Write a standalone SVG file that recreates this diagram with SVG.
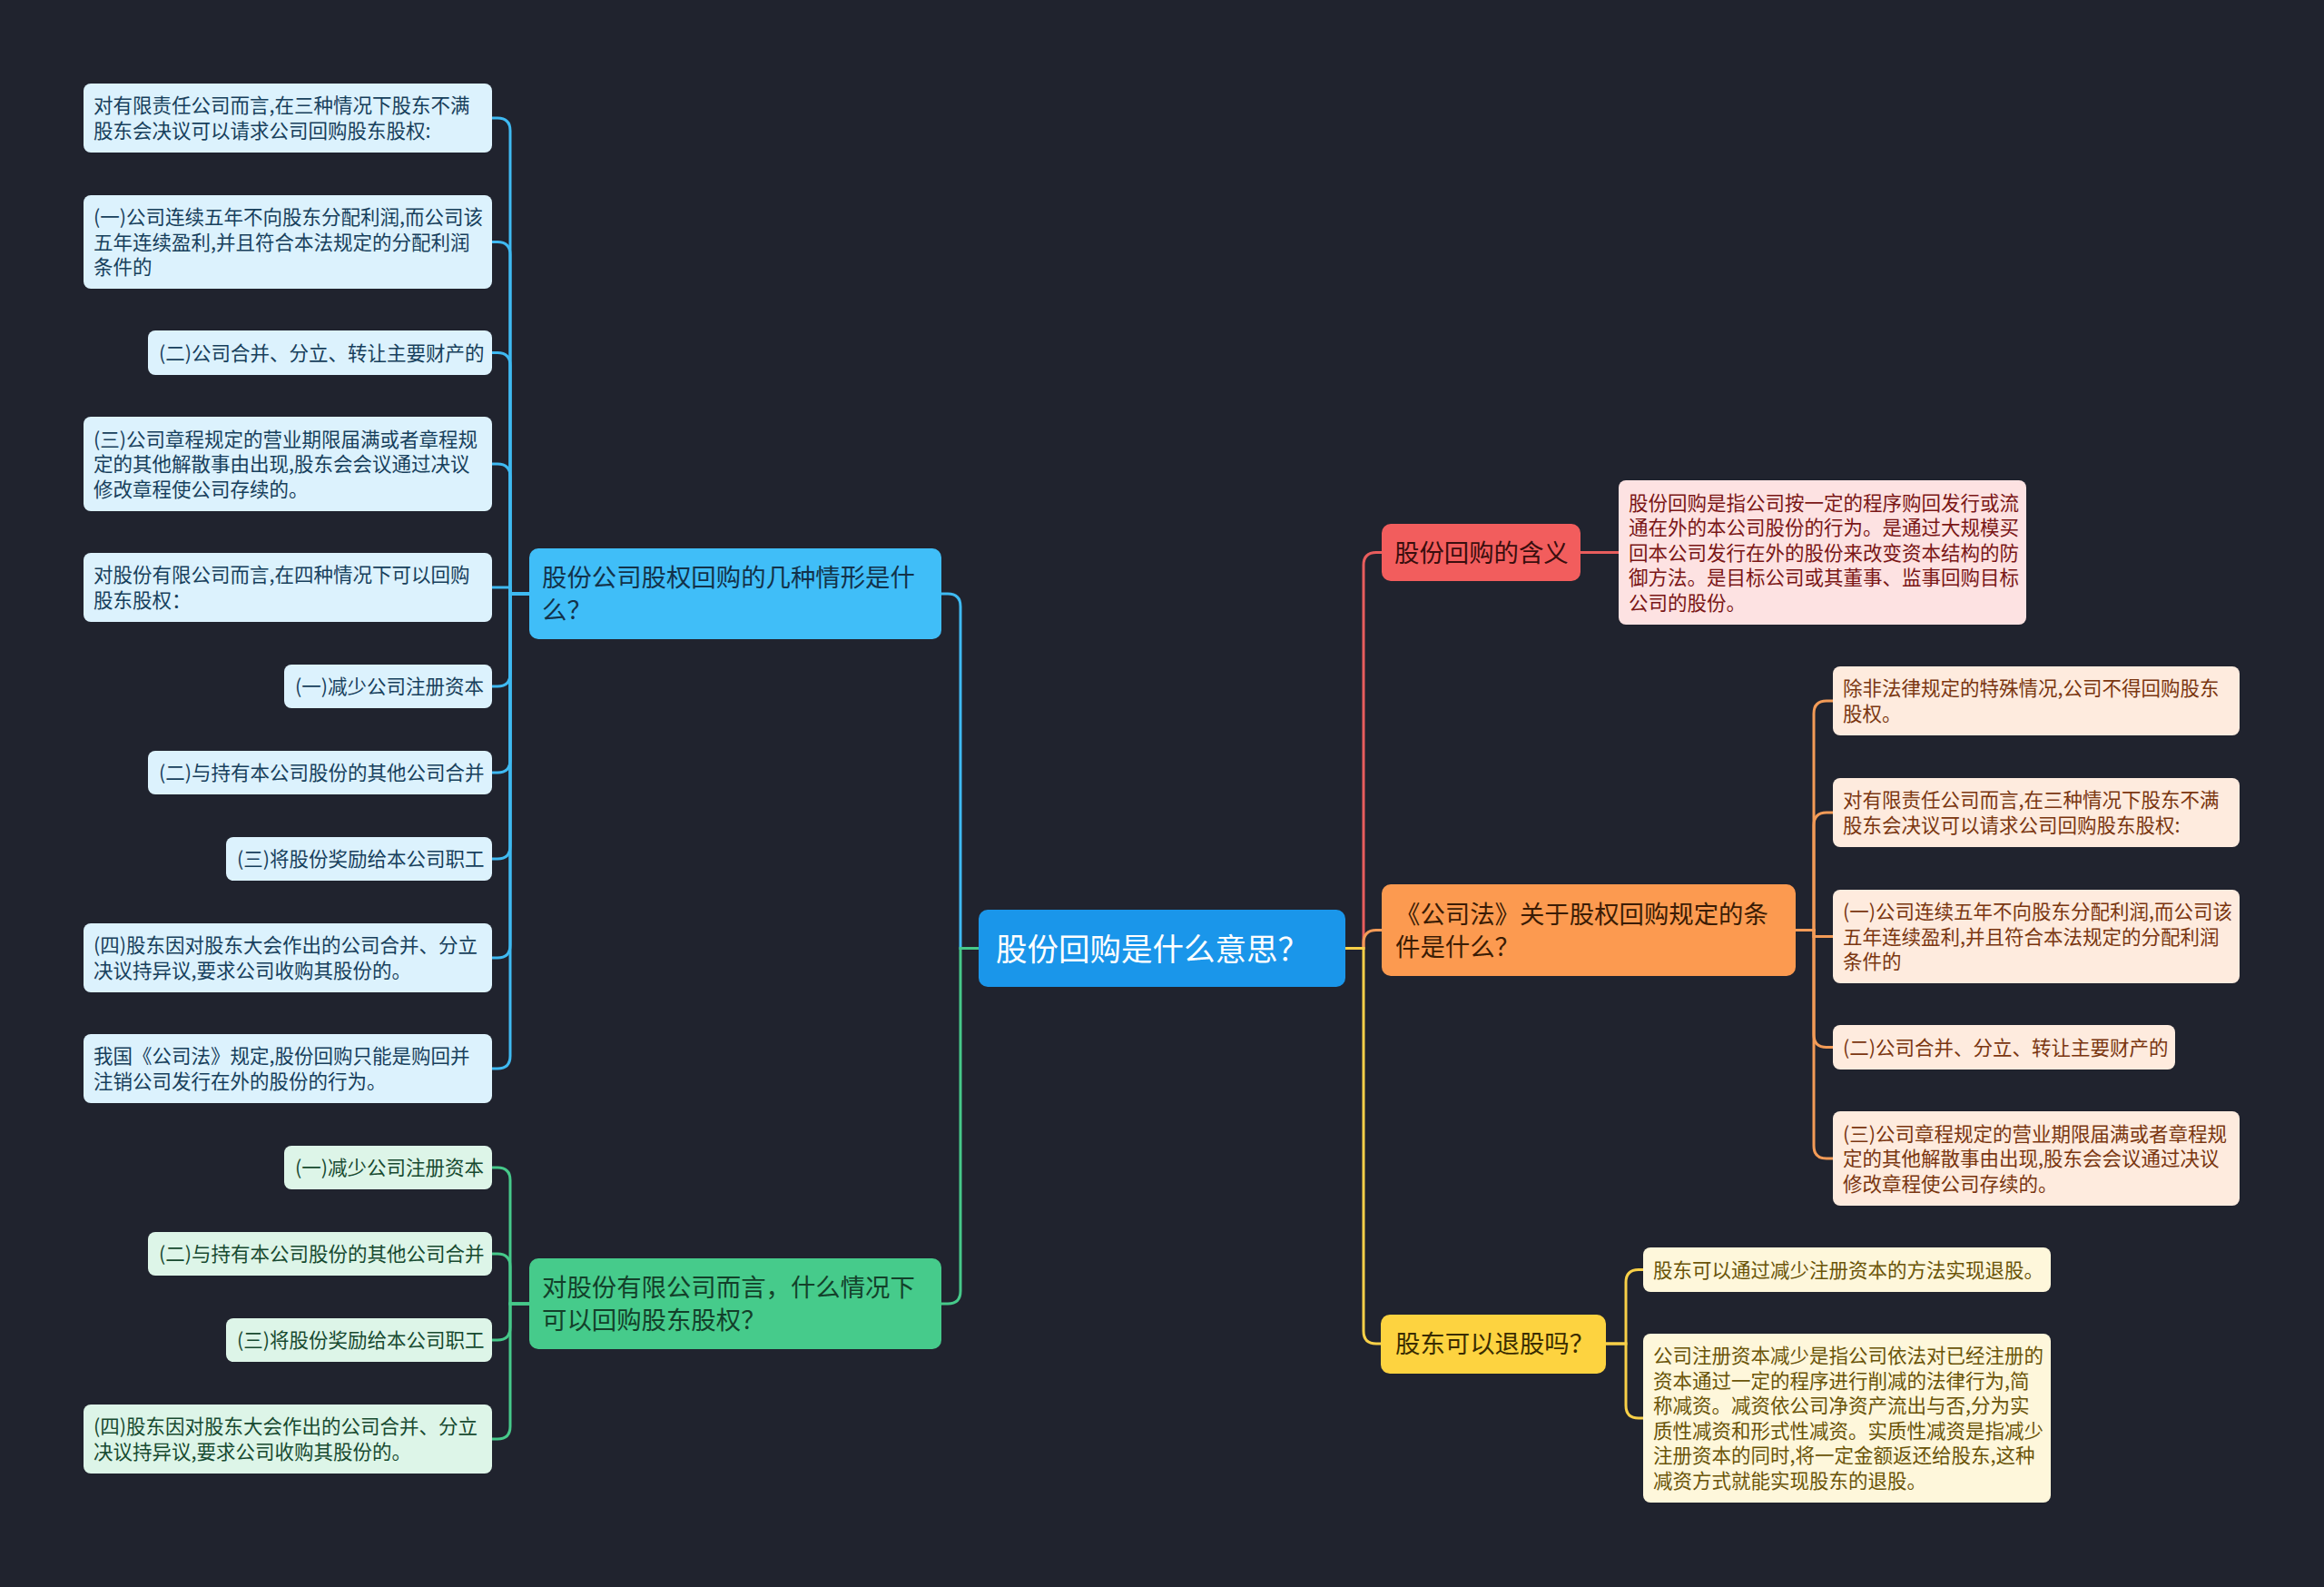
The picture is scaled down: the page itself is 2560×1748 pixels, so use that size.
<svg xmlns="http://www.w3.org/2000/svg" width="2560" height="1748" viewBox="0 0 2560 1748">
<style>
text{font-family:"Noto Sans CJK SC","Noto Sans",sans-serif;}
.s{font-size:21.5px;}
.m{font-size:27.4px;}
.r{font-size:34.5px;fill:#ffffff;}
.cb{fill:#dcf2fd;} .tb{fill:#17405c;}
.cg{fill:#ddf5e8;} .tg{fill:#174a30;}
.cr{fill:#fde2e2;} .tr{fill:#7a1616;}
.co{fill:#feebde;} .to{fill:#7a3610;}
.cy{fill:#fef7db;} .ty{fill:#6a5408;}
.lb{fill:none;stroke:#3fbaf2;stroke-width:3;}
.lg{fill:none;stroke:#46c98a;stroke-width:3;}
.lr{fill:none;stroke:#e85d5d;stroke-width:3;}
.lo{fill:none;stroke:#f39b57;stroke-width:3;}
.ly{fill:none;stroke:#f8d048;stroke-width:3;}
</style>
<rect x="0" y="0" width="2560" height="1748" fill="#20232e"/>

<g id="connectors">
<path class="lb" d="M1078,1044.5 H1058 V668 Q1058,654 1044,654 H1037"/>
<path class="lg" d="M1078,1044.5 H1058 V1422 Q1058,1436 1044,1436 H1037"/>
<path class="lb" d="M583,654 H562 V144 Q562,130 548,130 H542"/>
<path class="lb" d="M583,654 H562 V280.5 Q562,266.5 548,266.5 H542"/>
<path class="lb" d="M583,654 H562 V402.5 Q562,388.5 548,388.5 H542"/>
<path class="lb" d="M583,654 H562 V525 Q562,511 548,511 H542"/>
<path class="lb" d="M583,654 H562 V647 H542"/>
<path class="lb" d="M583,654 H562 V742 Q562,756 548,756 H542"/>
<path class="lb" d="M583,654 H562 V837 Q562,851 548,851 H542"/>
<path class="lb" d="M583,654 H562 V932 Q562,946 548,946 H542"/>
<path class="lb" d="M583,654 H562 V1041 Q562,1055 548,1055 H542"/>
<path class="lb" d="M583,654 H562 V1163 Q562,1177 548,1177 H542"/>
<path class="lg" d="M583,1436 H562 V1300 Q562,1286 548,1286 H542"/>
<path class="lg" d="M583,1436 H562 V1395 Q562,1381 548,1381 H542"/>
<path class="lg" d="M583,1436 H562 V1462 Q562,1476 548,1476 H542"/>
<path class="lg" d="M583,1436 H562 V1571 Q562,1585 548,1585 H542"/>
<path class="lr" d="M1482,1044.5 H1502 V622.5 Q1502,608.5 1516,608.5 H1522"/>
<path class="lo" d="M1482,1044.5 H1502 V1038.5 Q1502,1024.5 1516,1024.5 H1522"/>
<path class="ly" d="M1482,1044.5 H1502 V1466 Q1502,1480 1516,1480 H1521"/>
<path class="lr" d="M1741,608.5 H1783"/>
<path class="lo" d="M1978,1024.5 H1998 V786 Q1998,772 2012,772 H2019"/>
<path class="lo" d="M1978,1024.5 H1998 V909 Q1998,895 2012,895 H2019"/>
<path class="lo" d="M1978,1024.5 H1998 V1031.5 H2019"/>
<path class="lo" d="M1978,1024.5 H1998 V1139.5 Q1998,1153.5 2012,1153.5 H2019"/>
<path class="lo" d="M1978,1024.5 H1998 V1262 Q1998,1276 2012,1276 H2019"/>
<path class="ly" d="M1769,1480 H1791 V1412.5 Q1791,1398.5 1805,1398.5 H1810"/>
<path class="ly" d="M1769,1480 H1791 V1548 Q1791,1562 1805,1562 H1810"/>
</g>

<g id="root">
<rect x="1078" y="1002" width="404" height="85" rx="10" fill="#1a96ea"/>
<text class="r" x="1097" y="1057.6">股份回购是什么意思？</text>
</g>

<g id="n-blue">
<rect x="583" y="604" width="454" height="100" rx="10" fill="#40bef8"/>
<text class="m" fill="#13324a"><tspan x="597" y="646.4">股份公司股权回购的几种情形是什</tspan><tspan x="597" y="682.4">么？</tspan></text>
</g>
<g id="n-green">
<rect x="583" y="1386" width="454" height="100" rx="10" fill="#46cb8b"/>
<text class="m" fill="#13402a"><tspan x="597" y="1428.4">对股份有限公司而言，什么情况下</tspan><tspan x="597" y="1464.4">可以回购股东股权？</tspan></text>
</g>
<g id="n-red">
<rect x="1522" y="577" width="219" height="63" rx="10" fill="#f25d5d"/>
<text class="m" fill="#3a0e0e" x="1536" y="618.9">股份回购的含义</text>
</g>
<g id="n-orange">
<rect x="1522" y="974" width="456" height="101" rx="10" fill="#fc9a50"/>
<text class="m" fill="#3a1c05"><tspan x="1537" y="1016.9">《公司法》关于股权回购规定的条</tspan><tspan x="1537" y="1052.9">件是什么？</tspan></text>
</g>
<g id="n-yellow">
<rect x="1521" y="1448" width="248" height="65" rx="10" fill="#fdd340"/>
<text class="m" fill="#3a2c00" x="1537" y="1490.4">股东可以退股吗？</text>
</g>

<g id="b1"><rect class="cb" x="92" y="92" width="450" height="76" rx="8"/><text class="s tb"><tspan x="103" y="124.3">对有限责任公司而言,在三种情况下股东不满</tspan><tspan x="103" y="151.8">股东会决议可以请求公司回购股东股权:</tspan></text></g>
<g id="b2"><rect class="cb" x="92" y="215" width="450" height="103" rx="8"/><text class="s tb"><tspan x="103" y="247">(一)公司连续五年不向股东分配利润,而公司该</tspan><tspan x="103" y="274.5">五年连续盈利,并且符合本法规定的分配利润</tspan><tspan x="103" y="302">条件的</tspan></text></g>
<g id="b3"><rect class="cb" x="163" y="364" width="379" height="49" rx="8"/><text class="s tb" x="175" y="396.5">(二)公司合并、分立、转让主要财产的</text></g>
<g id="b4"><rect class="cb" x="92" y="459" width="450" height="104" rx="8"/><text class="s tb"><tspan x="103" y="491.5">(三)公司章程规定的营业期限届满或者章程规</tspan><tspan x="103" y="519">定的其他解散事由出现,股东会会议通过决议</tspan><tspan x="103" y="546.5">修改章程使公司存续的。</tspan></text></g>
<g id="b5"><rect class="cb" x="92" y="609" width="450" height="76" rx="8"/><text class="s tb"><tspan x="103" y="641.3">对股份有限公司而言,在四种情况下可以回购</tspan><tspan x="103" y="668.8">股东股权：</tspan></text></g>
<g id="b6"><rect class="cb" x="313" y="732" width="229" height="48" rx="8"/><text class="s tb" x="325" y="764">(一)减少公司注册资本</text></g>
<g id="b7"><rect class="cb" x="163" y="827" width="379" height="48" rx="8"/><text class="s tb" x="175" y="859">(二)与持有本公司股份的其他公司合并</text></g>
<g id="b8"><rect class="cb" x="249" y="922" width="293" height="48" rx="8"/><text class="s tb" x="261" y="954">(三)将股份奖励给本公司职工</text></g>
<g id="b9"><rect class="cb" x="92" y="1017" width="450" height="76" rx="8"/><text class="s tb"><tspan x="103" y="1049.3">(四)股东因对股东大会作出的公司合并、分立</tspan><tspan x="103" y="1076.8">决议持异议,要求公司收购其股份的。</tspan></text></g>
<g id="b10"><rect class="cb" x="92" y="1139" width="450" height="76" rx="8"/><text class="s tb"><tspan x="103" y="1171.3">我国《公司法》规定,股份回购只能是购回并</tspan><tspan x="103" y="1198.8">注销公司发行在外的股份的行为。</tspan></text></g>

<g id="g1"><rect class="cg" x="313" y="1262" width="229" height="48" rx="8"/><text class="s tg" x="325" y="1294">(一)减少公司注册资本</text></g>
<g id="g2"><rect class="cg" x="163" y="1357" width="379" height="48" rx="8"/><text class="s tg" x="175" y="1389">(二)与持有本公司股份的其他公司合并</text></g>
<g id="g3"><rect class="cg" x="249" y="1452" width="293" height="48" rx="8"/><text class="s tg" x="261" y="1484">(三)将股份奖励给本公司职工</text></g>
<g id="g4"><rect class="cg" x="92" y="1547" width="450" height="76" rx="8"/><text class="s tg"><tspan x="103" y="1579.3">(四)股东因对股东大会作出的公司合并、分立</tspan><tspan x="103" y="1606.8">决议持异议,要求公司收购其股份的。</tspan></text></g>

<g id="r1"><rect class="cr" x="1783" y="529" width="449" height="159" rx="8"/><text class="s tr"><tspan x="1794" y="561.5">股份回购是指公司按一定的程序购回发行或流</tspan><tspan x="1794" y="589">通在外的本公司股份的行为。是通过大规模买</tspan><tspan x="1794" y="616.5">回本公司发行在外的股份来改变资本结构的防</tspan><tspan x="1794" y="644">御方法。是目标公司或其董事、监事回购目标</tspan><tspan x="1794" y="671.5">公司的股份。</tspan></text></g>

<g id="o1"><rect class="co" x="2019" y="734" width="448" height="76" rx="8"/><text class="s to"><tspan x="2030" y="766.3">除非法律规定的特殊情况,公司不得回购股东</tspan><tspan x="2030" y="793.8">股权。</tspan></text></g>
<g id="o2"><rect class="co" x="2019" y="857" width="448" height="76" rx="8"/><text class="s to"><tspan x="2030" y="889.3">对有限责任公司而言,在三种情况下股东不满</tspan><tspan x="2030" y="916.8">股东会决议可以请求公司回购股东股权:</tspan></text></g>
<g id="o3"><rect class="co" x="2019" y="980" width="448" height="103" rx="8"/><text class="s to"><tspan x="2030" y="1012">(一)公司连续五年不向股东分配利润,而公司该</tspan><tspan x="2030" y="1039.5">五年连续盈利,并且符合本法规定的分配利润</tspan><tspan x="2030" y="1067">条件的</tspan></text></g>
<g id="o4"><rect class="co" x="2019" y="1129" width="377" height="49" rx="8"/><text class="s to" x="2030" y="1161.5">(二)公司合并、分立、转让主要财产的</text></g>
<g id="o5"><rect class="co" x="2019" y="1224" width="448" height="104" rx="8"/><text class="s to"><tspan x="2030" y="1256.5">(三)公司章程规定的营业期限届满或者章程规</tspan><tspan x="2030" y="1284">定的其他解散事由出现,股东会会议通过决议</tspan><tspan x="2030" y="1311.5">修改章程使公司存续的。</tspan></text></g>

<g id="y1"><rect class="cy" x="1810" y="1374" width="449" height="49" rx="8"/><text class="s ty" x="1821" y="1406.5">股东可以通过减少注册资本的方法实现退股。</text></g>
<g id="y2"><rect class="cy" x="1810" y="1469" width="449" height="186" rx="8"/><text class="s ty"><tspan x="1821" y="1501.3">公司注册资本减少是指公司依法对已经注册的</tspan><tspan x="1821" y="1528.8">资本通过一定的程序进行削减的法律行为,简</tspan><tspan x="1821" y="1556.3">称减资。减资依公司净资产流出与否,分为实</tspan><tspan x="1821" y="1583.8">质性减资和形式性减资。实质性减资是指减少</tspan><tspan x="1821" y="1611.3">注册资本的同时,将一定金额返还给股东,这种</tspan><tspan x="1821" y="1638.8">减资方式就能实现股东的退股。</tspan></text></g>
</svg>
